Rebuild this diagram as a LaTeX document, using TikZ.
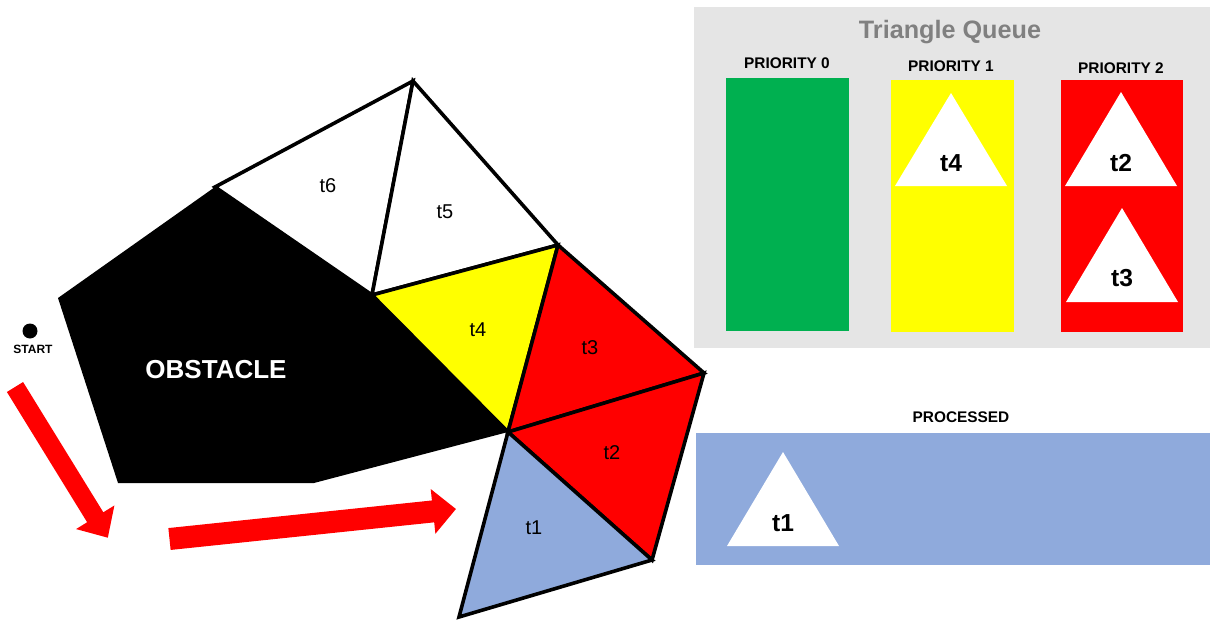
\documentclass[tikz,border=0pt]{standalone}
\usepackage{fontspec}
\setmainfont{Liberation Sans}
\definecolor{qgreen}{HTML}{00B050}
\definecolor{qyellow}{HTML}{FFFF00}
\definecolor{qred}{HTML}{FF0000}
\definecolor{qblue}{HTML}{8FAADC}
\definecolor{qgrey}{HTML}{E5E5E5}
\definecolor{titlegrey}{HTML}{808080}
\begin{document}
\begin{tikzpicture}[x=0.5pt,y=-0.5pt,
  mesh/.style={draw=black,line width=1.8pt,line join=miter},
  meshlabel/.style={inner sep=0pt,font=\fontsize{10pt}{12pt}\selectfont},
  qlabel/.style={inner sep=0pt,font=\fontsize{12.3pt}{14pt}\selectfont\bfseries},
  prio/.style={inner sep=0pt,font=\fontsize{7.7pt}{9pt}\selectfont\bfseries},
  redarrow/.style={fill=qred}]
\useasboundingbox (0,0) rectangle (1210,621);
% mesh vertices
\coordinate (A) at (215,187);
\coordinate (B) at (413,81);
\coordinate (C) at (372,295);
\coordinate (D) at (558,245);
\coordinate (E) at (704,373);
\coordinate (V) at (508,432);
\coordinate (F) at (652,560);
\coordinate (G) at (459,617);
\coordinate (L) at (58,298);
\coordinate (BL) at (118,483);
\coordinate (BR) at (314,483);
% obstacle
\fill[black] (A) -- (L) -- (BL) -- (BR) -- (V) -- (C) -- cycle;
\node[inner sep=0pt,text=white,font=\fontsize{13pt}{15pt}\selectfont\bfseries] (obs) at (216,370) {OBSTACLE};
% triangles
\filldraw[mesh,fill=white] (A) -- (B) -- (C) -- cycle;
\filldraw[mesh,fill=white] (B) -- (D) -- (C) -- cycle;
\filldraw[mesh,fill=qyellow] (C) -- (D) -- (V) -- cycle;
\filldraw[mesh,fill=qred] (D) -- (E) -- (V) -- cycle;
\filldraw[mesh,fill=qred] (V) -- (E) -- (F) -- cycle;
\filldraw[mesh,fill=qblue] (V) -- (F) -- (G) -- cycle;
\node[meshlabel] (l6) at (328,186) {t6};
\node[meshlabel] (l5) at (445,212) {t5};
\node[meshlabel] (l4) at (478,330) {t4};
\node[meshlabel] (l3) at (590,348) {t3};
\node[meshlabel] (l2) at (612,453) {t2};
\node[meshlabel] (l1) at (534,528) {t1};
% start
\fill[black] (30,331) circle (3.75pt);
\node[inner sep=0pt,font=\fontsize{6pt}{7pt}\selectfont\bfseries] (start) at (33,349) {START};
% red arrows
\begin{scope}[shift={(15,387)},rotate=-58.37]
\fill[redarrow] (0,-9.5) -- (153,-9.5) -- (153,-22.5) -- (177,0) -- (153,22.5) -- (153,9.5) -- (0,9.5) -- cycle;
\end{scope}
\begin{scope}[shift={(169.5,539)},rotate=5.98]
\fill[redarrow] (0,-11) -- (265,-11) -- (265,-22.5) -- (288,0) -- (265,22.5) -- (265,11) -- (0,11) -- cycle;
\end{scope}
% triangle queue panel
\fill[qgrey] (694,7) rectangle (1210,348);
\node[inner sep=0pt,text=titlegrey,font=\fontsize{12.6pt}{15pt}\selectfont\bfseries] (title) at (950,32) {Triangle Queue};
\node[prio] (p0) at (787,63) {PRIORITY 0};
\node[prio] (p1) at (951,66) {PRIORITY 1};
\node[prio] (p2) at (1121,68) {PRIORITY 2};
\fill[qgreen] (726,78) rectangle (849,331);
\fill[qyellow] (891,80) rectangle (1014,332);
\fill[qred] (1061,80) rectangle (1183,332);
\fill[white] (951,93) -- (1007,186) -- (895,186) -- cycle;
\node[qlabel] (q4) at (951,163) {t4};
\fill[white] (1121,92) -- (1177,186) -- (1065,186) -- cycle;
\node[qlabel] (q2) at (1121,163) {t2};
\fill[white] (1122,208) -- (1178,302) -- (1066,302) -- cycle;
\node[qlabel] (q3) at (1122,278) {t3};
% processed
\node[prio] (proc) at (961,417) {PROCESSED};
\fill[qblue] (696,433) rectangle (1210,565);
\fill[white] (783,452) -- (839,546) -- (727,546) -- cycle;
\node[qlabel] (q1) at (783,523) {t1};
\end{tikzpicture}
\end{document}
